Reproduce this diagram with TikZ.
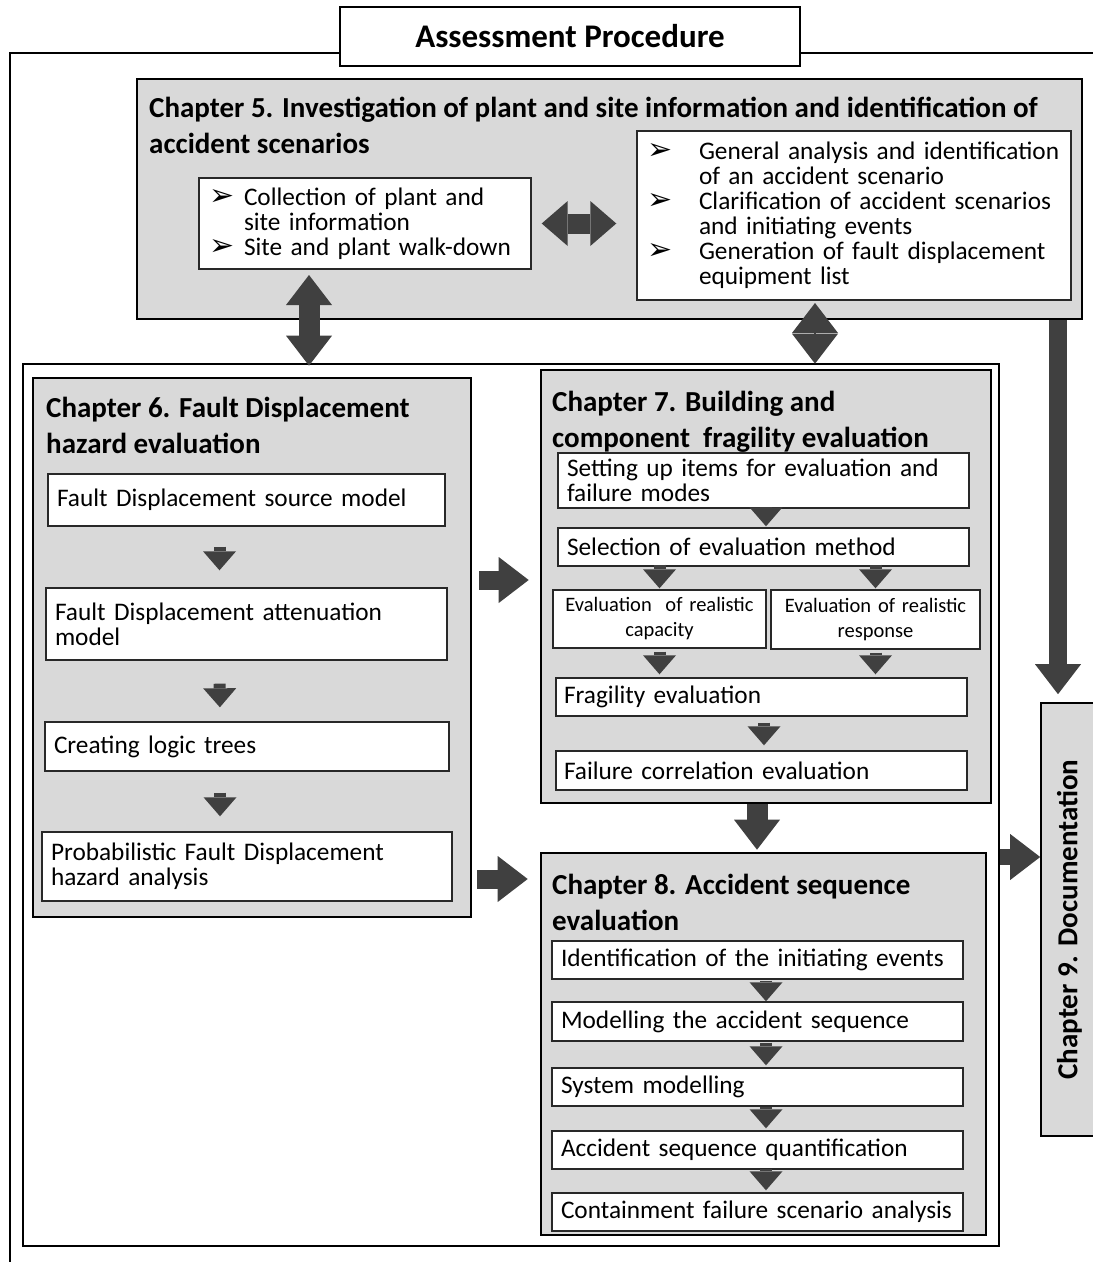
\documentclass[tikz,border=0pt]{standalone}
\usepackage{fontspec}
\setmainfont{Carlito}
\newfontfamily\symfont{DejaVu Sans}
\usetikzlibrary{arrows.meta}
\definecolor{boxgray}{RGB}{217,217,217}
\definecolor{arrowgray}{RGB}{64,64,64}
\definecolor{edgegray}{RGB}{40,40,40}
\newcommand{\bodyfont}{\fontsize{25.3}{25}\selectfont}
\newcommand{\smallbody}{\fontsize{20.5}{25}\selectfont}
\newcommand{\headfont}{\fontsize{29}{36}\selectfont\bfseries}
\newcommand{\titlefont}{\fontsize{33}{36}\selectfont\bfseries}
\newcommand{\bul}[2][35pt]{\mbox{\makebox[#1][l]{\symfont\fontsize{30}{25}\selectfont ➢}#2}}
\newcommand{\bulcont}[2][35pt]{\mbox{\hspace*{#1}#2}}
\tikzset{
  fathead/.tip={Triangle[length=30pt,width=46pt,line width=0pt]},
  flathead/.tip={Triangle[length=26pt,width=45pt,line width=0pt]},
  smallhead/.tip={Triangle[length=19pt,width=33pt,line width=0pt]}
}
\begin{document}
\begin{tikzpicture}[x=1pt,y=-1pt,
  chapbox/.style={draw=black,line width=2.6pt,fill=boxgray},
  itembox/.style={draw=edgegray,line width=1.4pt,fill=white,font=\bodyfont,
    align=left,inner xsep=9pt,inner ysep=0pt},
  midbox/.style={itembox,align=center,inner xsep=4pt,font=\smallbody},
  heading/.style={anchor=north west,inner sep=0pt,align=left,font=\headfont},
  fatarrow/.style={draw=arrowgray,line width=19pt,-fathead},
  fatboth/.style={draw=arrowgray,line width=21pt,fathead-fathead},
  smallarrow/.style={draw=arrowgray,line width=12pt,-smallhead}]
\useasboundingbox (0,0) rectangle (1093,1262);
%%Frame
\draw[line width=2.4pt] (10,1270) -- (10,53) -- (1100,53);
\node[draw,line width=2.4pt,fill=white,minimum width=460pt,minimum height=59pt,
  inner sep=0pt,font=\titlefont] (title) at (570,36.5) {Assessment Procedure};

%%Chapter 5
\node[chapbox,minimum width=945pt,minimum height=240pt] (ch5) at (609.5,199) {};
\node[heading] (h5) at (149,97)
  {Chapter 5. Investigation of plant and site information and identification of\\accident scenarios};
\node[itembox,inner xsep=10pt,text width=312pt,minimum height=91pt] (info) at (365,223.5)
  {\bul{Collection of plant and}\\\bulcont{site information}\\\bul{Site and plant walk-down}};
\node[itembox,inner xsep=10pt,text width=414pt,minimum height=169pt] (scen) at (854,215.5)
  {\bul[52pt]{General analysis and identification}\\\bulcont[52pt]{of an accident scenario}\\
   \bul[52pt]{Clarification of accident scenarios}\\\bulcont[52pt]{and initiating events}\\
   \bul[52pt]{Generation of fault displacement}\\\bulcont[52pt]{equipment list}};

%%Inner frame
\node[draw,line width=2.6pt,minimum width=976pt,minimum height=882pt] (frame) at (511,805) {};

%%Chapter 6
\node[chapbox,minimum width=438pt,minimum height=539pt] (ch6) at (252,647.5) {};
\node[heading] (h6) at (46,397) {Chapter 6. Fault Displacement\\hazard evaluation};
\node[itembox,text width=379pt,minimum height=52pt] (src) at (246.5,500) {Fault Displacement source model};
\node[itembox,text width=383pt,minimum height=72pt] (att) at (246.5,624) {Fault Displacement attenuation\\model};
\node[itembox,text width=386pt,minimum height=49pt] (logic) at (247,746.5) {Creating logic trees};
\node[itembox,text width=392pt,minimum height=69pt] (pfdha) at (247,866.5) {Probabilistic Fault Displacement\\hazard analysis};

%%Chapter 7
\node[chapbox,minimum width=450pt,minimum height=433pt] (ch7) at (766,586.5) {};
\node[heading] (h7) at (552,391) {Chapter 7. Building and\\component~ fragility evaluation};
\node[itembox,text width=393pt,minimum height=55pt] (items) at (763.5,480.5) {\mbox{Setting up items for evaluation and}\\failure modes};
\node[itembox,text width=393pt,minimum height=38pt] (method) at (763.5,547) {Selection of evaluation method};
\node[midbox,text width=205pt,minimum height=58pt] (capac) at (659.5,619) {Evaluation~ of realistic\\capacity};
\node[midbox,text width=201pt,minimum height=59pt] (resp) at (875.5,619.5) {Evaluation of realistic\\response};
\node[itembox,inner xsep=8pt,text width=395pt,minimum height=38pt] (fragil) at (761.5,697) {Fragility evaluation};
\node[itembox,inner xsep=8pt,text width=395pt,minimum height=39pt] (corr) at (761.5,770.5) {Failure correlation evaluation};

%%Chapter 8
\node[chapbox,minimum width=445pt,minimum height=382pt] (ch8) at (763.5,1044) {};
\node[heading] (h8) at (552,874) {Chapter 8. Accident sequence\\evaluation};
\node[itembox,text width=393pt,minimum height=38pt] (init) at (757.5,960) {\mbox{Identification of the initiating events}};
\node[itembox,text width=393pt,minimum height=39pt] (seq) at (757.5,1021.5) {Modelling the accident sequence};
\node[itembox,text width=393pt,minimum height=38pt] (sys) at (757.5,1087) {System modelling};
\node[itembox,text width=393pt,minimum height=38pt] (quant) at (757.5,1150) {Accident sequence quantification};
\node[itembox,text width=393pt,minimum height=38pt] (cont) at (757.5,1212) {\mbox{Containment failure scenario analysis}};

%%Chapter 9
\node[chapbox,line width=1.6pt,minimum width=57pt,minimum height=433pt,inner sep=0pt,font=\headfont]
  (ch9) at (1069.5,919.5) {\rotatebox{90}{Chapter 9. Documentation}};

%%Arrows
\draw[draw=arrowgray,line width=20pt,flathead-flathead,shorten <=10pt,shorten >=20pt]
  (info.east) -- (info.east -| scen.west);
\draw[fatboth,shorten <=-2pt,shorten >=-3pt] (309,277) -- (309,277 |- frame.north);
\draw[fatboth,line width=2pt,shorten >=-1pt] (815,303) -- (815,303 |- frame.north);
\draw[fatarrow,line width=18pt,shorten >=8pt] (ch5.south -| 1058,0) -- (ch9.north -| 1058,0);

\draw[smallarrow,shorten <=20pt,shorten >=17pt] ([xshift=-27pt]src.south) -- ([xshift=-27pt]att.north);
\draw[smallarrow,shorten <=23pt,shorten >=14pt] ([xshift=-27pt]att.south) -- ([xshift=-27pt]logic.north);
\draw[smallarrow,shorten <=21pt,shorten >=15pt] ([xshift=-27pt]logic.south) -- ([xshift=-27pt]pfdha.north);

\draw[fatarrow,shorten <=7pt,shorten >=11pt] (ch6.east |- 0,580) -- (ch7.west |- 0,580);
\draw[fatarrow,shorten <=5pt,shorten >=12pt] (ch6.east |- 0,879) -- (ch8.west |- 0,879);

\draw[smallarrow,shorten <=-3pt,shorten >=1pt] ([xshift=2.5pt]items.south) -- ([xshift=2.5pt]method.north);
\draw[smallarrow,shorten <=-2pt,shorten >=1pt] (method.south -| capac.north) -- (capac.north);
\draw[smallarrow,shorten <=-2pt,shorten >=1pt] (method.south -| resp.north) -- (resp.north);
\draw[smallarrow,shorten <=3pt,shorten >=3pt] (capac.south) -- (capac.south |- fragil.north);
\draw[smallarrow,shorten <=3pt,shorten >=3pt] (resp.south) -- (resp.south |- fragil.north);
\draw[smallarrow,shorten <=6pt,shorten >=5pt] ([xshift=2.5pt]fragil.south) -- ([xshift=2.5pt]corr.north);

\draw[fatarrow,line width=21pt,shorten >=2pt] (ch7.south -| 757,0) -- (ch8.north -| 757,0);

\draw[smallarrow,shorten <=1pt,shorten >=0pt] ([xshift=8.5pt]init.south) -- ([xshift=8.5pt]seq.north);
\draw[smallarrow,shorten <=1pt,shorten >=2pt] ([xshift=8.5pt]seq.south) -- ([xshift=8.5pt]sys.north);
\draw[smallarrow,shorten <=0pt,shorten >=2pt] ([xshift=8.5pt]sys.south) -- ([xshift=8.5pt]quant.north);
\draw[smallarrow,shorten <=-1pt,shorten >=2pt] ([xshift=8.5pt]quant.south) -- ([xshift=8.5pt]cont.north);

\draw[fatarrow,line width=16pt] (frame.east |- 0,857) -- (ch9.west |- 0,857);
\end{tikzpicture}
\end{document}
